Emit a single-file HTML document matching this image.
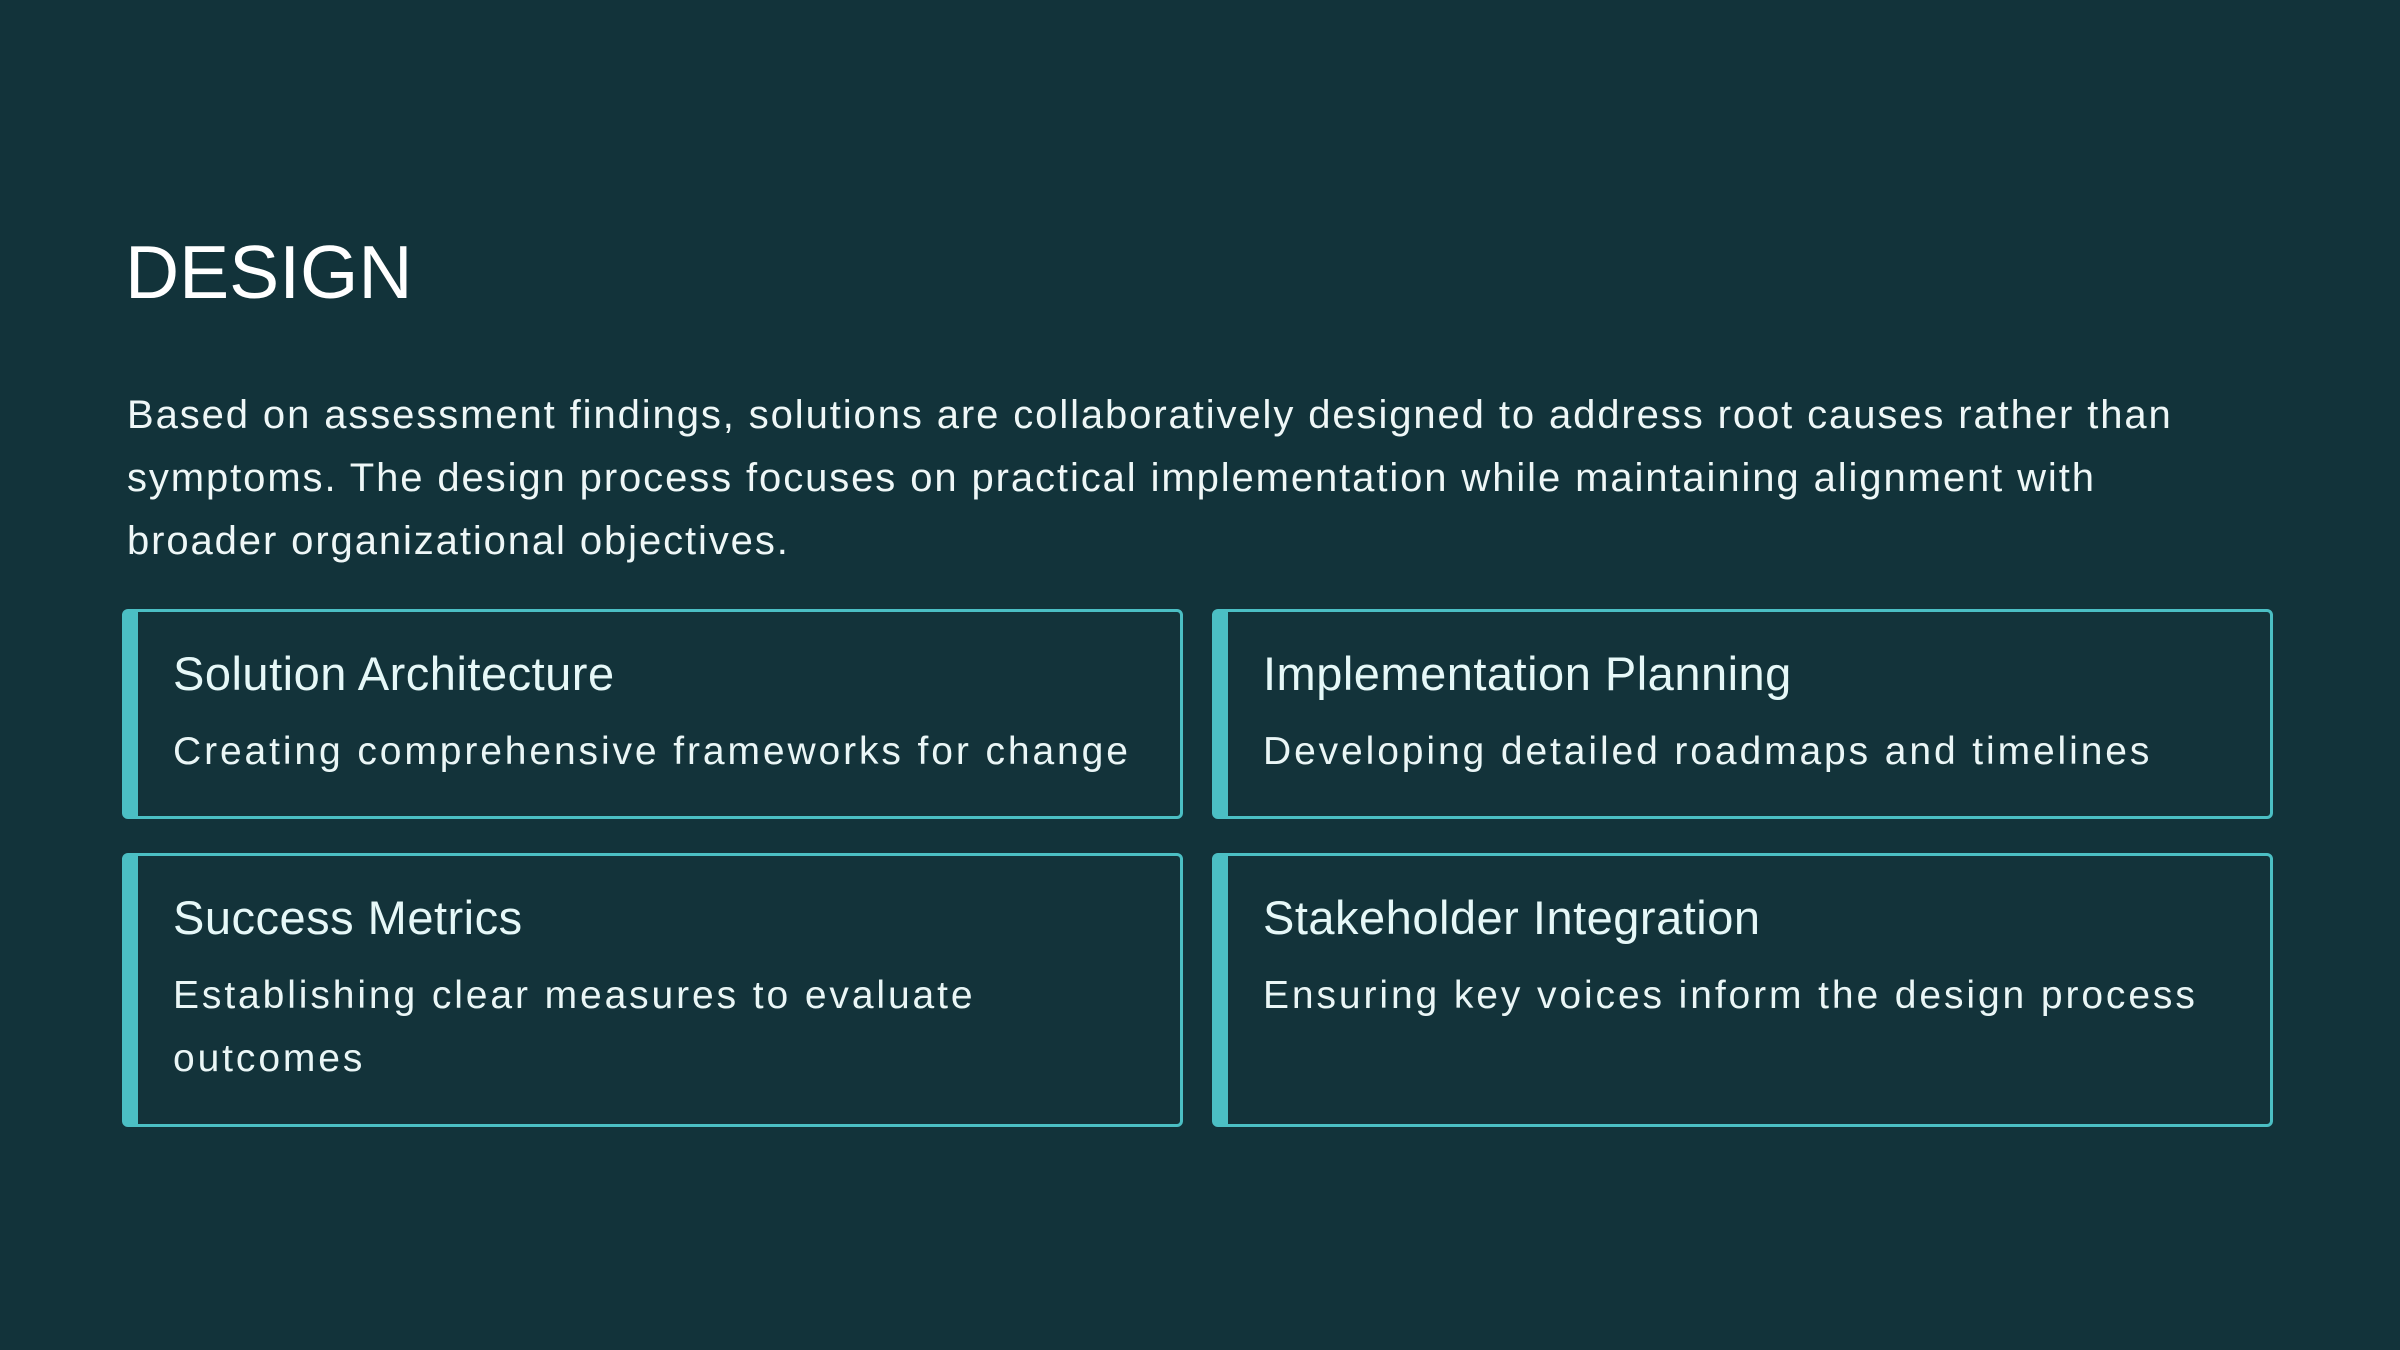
<!DOCTYPE html>
<html><head><style>
*{margin:0;padding:0;box-sizing:border-box}
body{width:2400px;height:1350px;background:#12333a;font-family:"Liberation Sans",sans-serif;color:#fff;position:relative;overflow:hidden}
h1{position:absolute;left:125px;top:229px;font-size:75px;font-weight:400;letter-spacing:0px;color:#fff}
p.lead{position:absolute;left:127px;top:384px;width:2300px;font-size:40px;line-height:63px;color:#eef7f7;letter-spacing:1.9px;white-space:nowrap}
.card{position:absolute;border:3px solid #4bbfc4;border-left:16px solid #4bbfc4;border-radius:6px;background:#13333a;padding:34px 0 0 35px}
.card h2{font-size:47px;font-weight:400;color:#e6f8f8;line-height:56px;letter-spacing:0.5px}
.card div{font-size:39px;color:#eaf6f6;line-height:63px;margin-top:18px;letter-spacing:2.9px;white-space:nowrap}
</style></head><body>
<h1>DESIGN</h1>
<p class="lead">Based on assessment findings, solutions are collaboratively designed to address root causes rather than<br>symptoms. The design process focuses on practical implementation while maintaining alignment with<br>broader organizational objectives.</p>
<div class="card" style="left:122px;top:609px;width:1061px;height:210px"><h2>Solution Architecture</h2><div>Creating comprehensive frameworks for change</div></div>
<div class="card" style="left:1212px;top:609px;width:1061px;height:210px"><h2>Implementation Planning</h2><div>Developing detailed roadmaps and timelines</div></div>
<div class="card" style="left:122px;top:853px;width:1061px;height:274px"><h2>Success Metrics</h2><div>Establishing clear measures to evaluate<br>outcomes</div></div>
<div class="card" style="left:1212px;top:853px;width:1061px;height:274px"><h2>Stakeholder Integration</h2><div>Ensuring key voices inform the design process</div></div>
</body></html>
